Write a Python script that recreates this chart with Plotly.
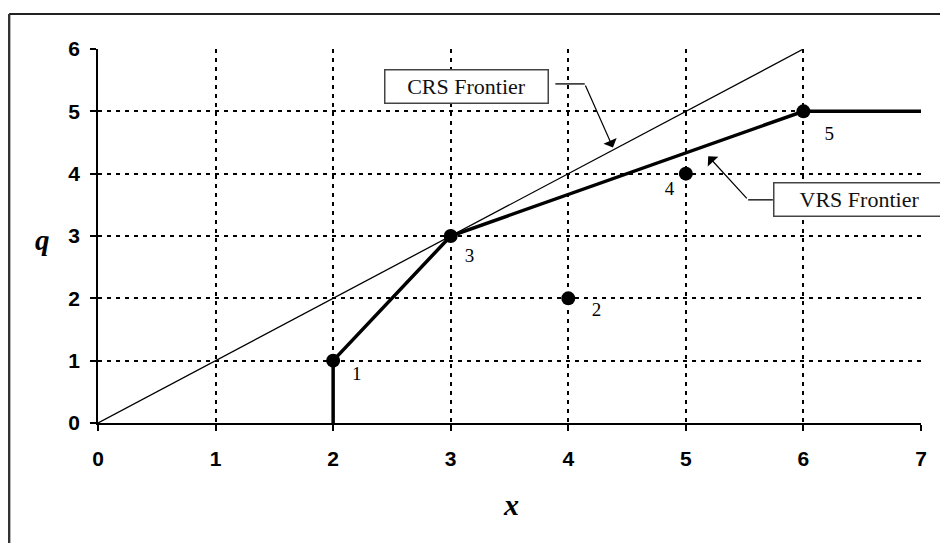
import plotly.graph_objects as go

# ---- data ----
firm_x = [2, 3, 4, 5, 6]
firm_q = [1, 3, 2, 4, 5]
firm_labels = ["1", "3", "2", "4", "5"]
label_x = [2.2, 3.16, 4.24, 4.86, 6.22]
label_q = [0.76, 2.66, 1.8, 3.74, 4.62]

crs_x = [0, 6]
crs_q = [0, 6]

vrs_x = [2, 2, 3, 6, 7]
vrs_q = [0, 1, 3, 5, 5]

x_ticks = [0, 1, 2, 3, 4, 5, 6, 7]
q_ticks = [0, 1, 2, 3, 4, 5, 6]

fig = go.Figure()

fig.add_trace(go.Scatter(x=crs_x, y=crs_q, mode="lines",
                         line=dict(color="black", width=1.3),
                         hoverinfo="skip", showlegend=False, cliponaxis=False))
fig.add_trace(go.Scatter(x=vrs_x, y=vrs_q, mode="lines",
                         line=dict(color="black", width=3.5),
                         hoverinfo="skip", showlegend=False, cliponaxis=False))
fig.add_trace(go.Scatter(x=firm_x, y=firm_q, mode="markers",
                         marker=dict(color="black", size=14),
                         showlegend=False, cliponaxis=False))
fig.add_trace(go.Scatter(x=label_x, y=label_q, mode="text", text=firm_labels,
                         textfont=dict(family="Liberation Serif", size=19, color="black"),
                         showlegend=False, cliponaxis=False))

axis_common = dict(
    showgrid=True, gridcolor="black", gridwidth=1.6, griddash="4px,5px",
    showline=True, linecolor="black", linewidth=1.5,
    ticks="outside", ticklen=6, tickcolor="black", tickwidth=1.5,
    tickfont=dict(family="Liberation Sans", size=21, color="black", weight="bold"),
    zeroline=False, fixedrange=True,
)
fig.update_xaxes(range=[0, 7], tickvals=x_ticks, ticklabelstandoff=10, **axis_common)
fig.update_yaxes(range=[0, 6], tickvals=q_ticks, ticklabelstandoff=6, **axis_common)

# axis titles
fig.add_annotation(x=-0.067, y=0.49, xref="paper", yref="paper", text="<b><i>q</i></b>",
                   xanchor="center", yanchor="middle", showarrow=False,
                   font=dict(family="Liberation Serif", size=29, color="black"))
fig.add_annotation(x=0.502, y=-0.219, xref="paper", yref="paper", text="<b><i>x</i></b>",
                   xanchor="center", yanchor="middle", showarrow=False,
                   font=dict(family="Liberation Serif", size=30, color="black"))

# CRS box + bent arrow
fig.add_annotation(x=3.13, y=5.40, text="CRS Frontier", showarrow=False,
                   font=dict(family="Liberation Serif", size=22, color="#111"),
                   bordercolor="#444", borderwidth=1.5, bgcolor="white",
                   width=160, height=30, borderpad=1)
fig.add_shape(type="line", x0=3.89, y0=5.44, x1=4.14, y1=5.44,
              line=dict(color="black", width=1.3))
fig.add_annotation(x=4.38, y=4.42, ax=4.14, ay=5.44, axref="x", ayref="y",
                   text="", showarrow=True, arrowhead=1, arrowsize=2,
                   arrowwidth=1.2, arrowcolor="black")

# VRS box + bent arrow
fig.add_annotation(x=6.48, y=3.58, text="VRS Frontier", showarrow=False,
                   font=dict(family="Liberation Serif", size=22, color="#111"),
                   bordercolor="#444", borderwidth=1.5, bgcolor="white",
                   width=168, height=30, borderpad=1, xanchor="center")
fig.add_shape(type="line", x0=5.74, y0=3.58, x1=5.53, y1=3.58,
              line=dict(color="black", width=1.3))
fig.add_annotation(x=5.19, y=4.28, ax=5.53, ay=3.58, axref="x", ayref="y",
                   text="", showarrow=True, arrowhead=1, arrowsize=2,
                   arrowwidth=1.2, arrowcolor="black")

# outer frame (partial, as in scanned figure)
fig.add_shape(type="line", xref="paper", yref="paper",
              x0=-0.108, y0=1.0936, x1=1.04, y1=1.0936,
              line=dict(color="#222", width=2))
fig.add_shape(type="line", xref="paper", yref="paper",
              x0=-0.108, y0=1.0936, x1=-0.108, y1=-0.33,
              line=dict(color="#333", width=2.5))

# the page body has an 8px default margin, so the figure is sized/offset for it
fig.update_layout(
    width=940, height=535,
    margin=dict(l=90, r=27, t=41, b=120),
    plot_bgcolor="white", paper_bgcolor="white",
    showlegend=False,
)

fig.write_html("out.html")
